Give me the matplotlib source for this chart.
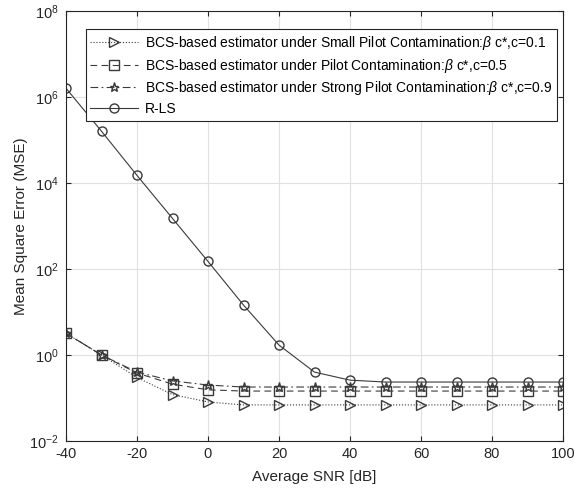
import numpy as np
import matplotlib.pyplot as plt
from matplotlib.ticker import LogFormatterMathtext

plt.rcParams['font.family'] = ['Liberation Sans', 'DejaVu Sans']
plt.rcParams['mathtext.fontset'] = 'custom'
plt.rcParams['mathtext.rm'] = 'Liberation Sans'
plt.rcParams['mathtext.it'] = 'Liberation Sans:italic'
plt.rcParams['axes.unicode_minus'] = False

snr = [-40, -30, -20, -10, 0, 10, 20, 30, 40, 50, 60, 70, 80, 90, 100]

mse_small = [3.2, 1.0, 0.30, 0.12, 0.081, 0.069, 0.069, 0.069, 0.069, 0.069, 0.069, 0.069, 0.069, 0.069, 0.069]
mse_mid = [3.2, 1.0, 0.38, 0.21, 0.155, 0.145, 0.145, 0.145, 0.145, 0.145, 0.145, 0.145, 0.145, 0.145, 0.145]
mse_strong = [3.2, 1.0, 0.40, 0.25, 0.20, 0.18, 0.18, 0.18, 0.18, 0.18, 0.18, 0.18, 0.18, 0.18, 0.18]
mse_rls = [1.6e6, 1.6e5, 1.5e4, 1.5e3, 1.5e2, 14.5, 1.7, 0.40, 0.26, 0.235, 0.235, 0.235, 0.235, 0.235, 0.235]

labels = [
    r'BCS-based estimator under Small Pilot Contamination:$\beta$ c*,c=0.1',
    r'BCS-based estimator under Pilot Contamination:$\beta$ c*,c=0.5',
    r'BCS-based estimator under Strong Pilot Contamination:$\beta$ c*,c=0.9',
    'R-LS',
]

fig = plt.figure(figsize=(5.75, 4.99), dpi=100)
ax = fig.add_axes([66 / 575, 58 / 499, 497 / 575, 430 / 499])

col = '#3a3a3a'
kw = dict(color=col, markerfacecolor='none', markeredgecolor=col, linewidth=0.8, markersize=6.5)
ax.semilogy(snr, mse_small, ':', marker='>', label=labels[0], **kw)
ax.semilogy(snr, mse_mid, '--', marker='s', dashes=(6, 4), label=labels[1], **kw)
ax.semilogy(snr, mse_strong, '-.', marker='*', dashes=(7, 3, 1.5, 3), label=labels[2], **kw)
ax.semilogy(snr, mse_rls, '-', marker='o', label=labels[3], **kw)

ax.set_xlim(-40, 100)
ax.set_ylim(1e-2, 1e8)
ax.set_xticks(np.arange(-40, 101, 20))
ax.set_yticks([1e-2, 1e0, 1e2, 1e4, 1e6, 1e8])
ax.yaxis.set_major_formatter(LogFormatterMathtext())
ax.minorticks_off()
ax.grid(True, color='#e0e0e0', linewidth=0.8)
ax.tick_params(direction='in', labelsize=10.5, colors='#262626', top=True, right=True)
ax.tick_params(axis='x', pad=4)
ax.tick_params(axis='y', pad=5)
for s in ax.spines.values():
    s.set_color('#262626')
    s.set_linewidth(0.8)

ax.set_xlabel('Average SNR [dB]', fontsize=11, color='#262626', labelpad=7)
ax.set_ylabel('Mean Square Error (MSE)', fontsize=11, color='#262626', labelpad=1)

leg = ax.legend(loc='upper right', bbox_to_anchor=(0.988, 0.958), fontsize=10, fancybox=False,
                edgecolor='#262626', framealpha=1, handlelength=3.4, borderpad=0.35,
                labelspacing=0.33, handletextpad=0.5, borderaxespad=0)
leg.get_frame().set_linewidth(0.8)

fig.savefig('out.png', dpi=100)
